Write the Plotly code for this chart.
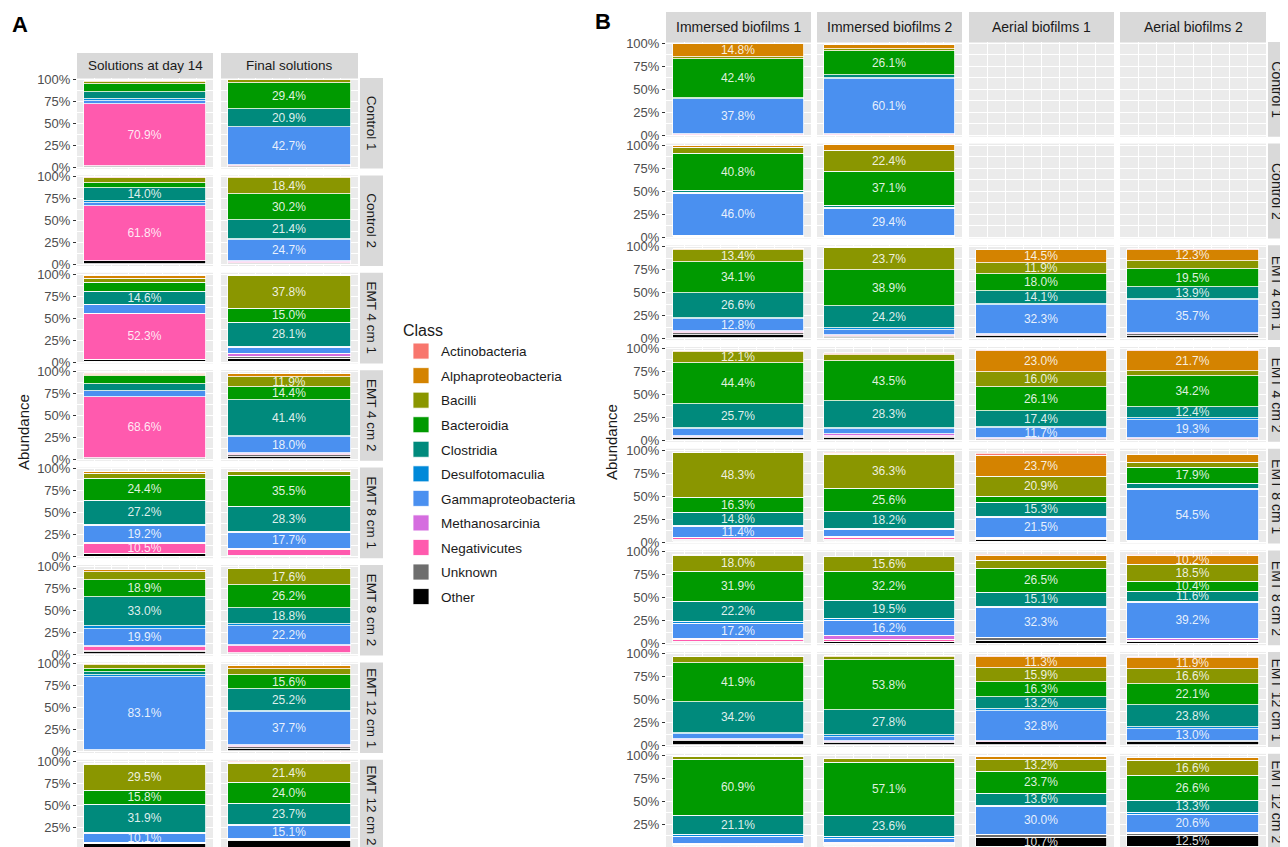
import plotly.graph_objects as go

# ---------------- data ----------------
classes = ["Actinobacteria", "Alphaproteobacteria", "Bacilli", "Bacteroidia", "Clostridia",
           "Desulfotomaculia", "Gammaproteobacteria", "Methanosarcinia", "Negativicutes",
           "Unknown", "Other"]
class_colors = ["#F8766D", "#D48300", "#8A9600", "#009A00", "#008A7C",
                "#0089D9", "#4A90F0", "#D56DDF", "#FF5AAE", "#6E6E6E", "#000000"]

row_labels = ["Control 1", "Control 2", "EMT 4 cm 1", "EMT 4 cm 2",
              "EMT 8 cm 1", "EMT 8 cm 2", "EMT 12 cm 1", "EMT 12 cm 2"]
a_columns = ["Solutions at day 14", "Final solutions"]
b_columns = ["Immersed biofilms 1", "Immersed biofilms 2", "Aerial biofilms 1", "Aerial biofilms 2"]

# each row: values (%) from bottom to top of the stack:
# Other, Unknown, Negativicutes, Methanosarcinia, Gammaproteobacteria, Desulfotomaculia,
# Clostridia, Bacteroidia, Bacilli, Alphaproteobacteria, Actinobacteria
solutions_day14 = [
    [1.0, 0.3, 70.9, 0.2, 3.5, 1.2, 8.3, 9.5, 2.5, 0.8, 0.3],
    [4.0, 0.3, 61.8, 0.2, 3.5, 2.5, 14.0, 6.5, 5.0, 0.8, 0.2],
    [2.5, 0.3, 52.3, 0.2, 9.5, 0.7, 14.6, 9.5, 5.5, 2.5, 0.3],
    [1.5, 0.5, 68.6, 0.2, 6.5, 0.8, 8.0, 9.0, 0.8, 1.5, 0.3],
    [3.5, 0.8, 10.5, 1.5, 19.2, 1.5, 27.2, 24.4, 6.0, 2.0, 0.3],
    [3.0, 0.5, 5.0, 0.8, 19.9, 3.5, 33.0, 18.9, 9.0, 1.8, 0.3],
    [0.5, 0.5, 0.5, 0.3, 83.1, 1.5, 3.5, 4.0, 4.0, 0.8, 0.3],
    [6.0, 0.5, 0.3, 0.2, 10.1, 1.0, 31.9, 15.8, 29.5, 1.2, 0.3],
]
final_solutions = [
    [1.0, 0.5, 0.8, 0.3, 42.7, 0.5, 20.9, 29.4, 3.0, 0.4, 0.2],
    [0.5, 0.5, 1.5, 0.8, 24.7, 0.5, 21.4, 30.2, 18.4, 0.3, 0.1],
    [4.0, 2.0, 0.5, 2.5, 7.0, 1.0, 28.1, 15.0, 37.8, 0.3, 0.1],
    [2.5, 2.0, 1.0, 1.5, 18.0, 1.0, 41.4, 14.4, 11.9, 3.0, 0.3],
    [0.5, 1.0, 6.5, 1.5, 17.7, 1.5, 28.3, 35.5, 4.5, 0.5, 0.1],
    [0.5, 1.0, 8.0, 0.8, 22.2, 1.5, 18.8, 26.2, 17.6, 0.5, 0.1],
    [3.0, 1.5, 1.0, 1.5, 37.7, 1.0, 25.2, 15.6, 7.5, 2.5, 0.3],
    [9.5, 1.0, 0.5, 0.3, 15.1, 1.0, 23.7, 24.0, 21.4, 2.0, 0.3],
]
immersed_1 = [
    [0.5, 0.3, 0.3, 0.5, 37.8, 0.5, 1.0, 42.4, 1.5, 14.8, 0.2],
    [0.5, 0.3, 0.3, 0.3, 46.0, 1.0, 1.5, 40.8, 7.0, 1.5, 0.2],
    [4.0, 2.0, 1.0, 1.5, 12.8, 1.0, 26.6, 34.1, 13.4, 0.5, 0.2],
    [3.0, 0.5, 0.5, 0.5, 7.5, 2.0, 25.7, 44.4, 12.1, 0.5, 0.2],
    [1.5, 1.0, 2.0, 0.5, 11.4, 1.0, 14.8, 16.3, 48.3, 0.3, 0.1],
    [2.0, 0.5, 2.0, 1.0, 17.2, 1.5, 22.2, 31.9, 18.0, 0.5, 0.2],
    [4.5, 1.0, 0.5, 0.5, 5.5, 1.5, 34.2, 41.9, 6.0, 0.5, 0.2],
    [2.0, 0.5, 0.5, 1.0, 7.5, 1.5, 21.1, 60.9, 3.0, 0.3, 0.1],
]
immersed_2 = [
    [0.5, 0.3, 0.3, 0.5, 60.1, 1.0, 2.5, 26.1, 3.0, 3.5, 0.2],
    [0.5, 0.3, 0.3, 0.4, 29.4, 1.0, 2.0, 37.1, 22.4, 6.5, 0.1],
    [2.0, 1.0, 0.5, 0.5, 5.5, 1.5, 24.2, 38.9, 23.7, 0.3, 0.1],
    [3.0, 0.5, 1.5, 2.0, 5.5, 1.5, 28.3, 43.5, 6.5, 2.0, 0.3],
    [2.0, 0.5, 2.5, 0.5, 7.5, 1.5, 18.2, 25.6, 36.3, 2.0, 0.2],
    [2.5, 0.5, 2.0, 4.5, 16.2, 1.5, 19.5, 32.2, 15.6, 0.5, 0.2],
    [2.5, 1.0, 0.5, 0.5, 5.0, 1.5, 27.8, 53.8, 4.0, 0.5, 0.2],
    [2.0, 0.5, 1.0, 1.5, 4.5, 1.5, 23.6, 57.1, 4.5, 0.3, 0.1],
]
aerial_1 = [
    None,
    None,
    [3.0, 0.5, 0.5, 0.3, 32.3, 1.0, 14.1, 18.0, 11.9, 14.5, 0.3],
    [1.0, 0.5, 0.3, 0.3, 11.7, 1.0, 17.4, 26.1, 16.0, 23.0, 1.2],
    [2.5, 1.0, 0.5, 0.5, 21.5, 1.5, 15.3, 7.0, 20.9, 23.7, 1.2],
    [3.5, 3.0, 0.3, 0.3, 32.3, 1.0, 15.1, 26.5, 8.5, 6.0, 0.3],
    [3.5, 0.5, 0.5, 0.3, 32.8, 1.5, 13.2, 16.3, 15.9, 11.3, 1.5],
    [10.7, 2.5, 0.3, 0.3, 30.0, 1.0, 13.6, 23.7, 13.2, 2.5, 0.3],
]
aerial_2 = [
    None,
    None,
    [3.0, 2.0, 0.3, 0.3, 35.7, 1.0, 13.9, 19.5, 8.5, 12.3, 0.3],
    [1.5, 0.5, 0.3, 0.3, 19.3, 2.0, 12.4, 34.2, 4.5, 21.7, 1.2],
    [0.5, 0.5, 0.5, 0.5, 54.5, 1.0, 5.5, 17.9, 5.5, 8.5, 0.3],
    [3.0, 0.5, 0.5, 1.5, 39.2, 1.0, 11.6, 10.4, 18.5, 10.2, 0.3],
    [4.0, 0.5, 0.5, 0.3, 13.0, 2.0, 23.8, 22.1, 16.6, 11.9, 1.5],
    [12.5, 2.0, 0.3, 0.3, 20.6, 1.5, 13.3, 26.6, 16.6, 3.5, 0.3],
]

y_tickvals = [0, 25, 50, 75, 100]
y_ticktext = ["0%", "25%", "50%", "75%", "100%"]
y_minor = [12.5, 37.5, 62.5, 87.5]

# ---------------- layout geometry (pixels of the 1288x847 page) ----------------
PAGE_W, PAGE_H = 1288, 847
OFF = 8                      # default body margin of the html page
W, H = PAGE_W - OFF, PAGE_H - OFF
FONT = "Liberation Sans, Arial, sans-serif"
STRIP = "#D9D9D9"
stack_classes = classes[::-1]
stack_colors = class_colors[::-1]
EXP = 1.5  # % expansion above/below


def fx(x):
    return (x - OFF) / W


def fy(y):
    return 1 - (y - OFF) / H


panels = {
    "A": dict(cols=[(77, 213), (221, 358)], y100=79.3, pitch=97.4, scale=0.88,
              data=[solutions_day14, final_solutions], names=a_columns,
              strip_top=53, row_strip=(360, 383), row_text_x=371.5, sfont=13.5),
    "B": dict(cols=[(666, 811), (817, 962), (969, 1114), (1120, 1266)], y100=43.3, pitch=101.7,
              scale=0.92, data=[immersed_1, immersed_2, aerial_1, aerial_2], names=b_columns,
              strip_top=12, row_strip=(1268, 1290), row_text_x=1277, sfont=14),
}

fig = go.Figure()
layout = {}
shapes = []
annotations = []
idx = 0

for key, p in panels.items():
    for r, rlab in enumerate(row_labels):
        y100 = p["y100"] + p["pitch"] * r
        y0 = y100 + 100 * p["scale"]
        top = y100 - EXP * p["scale"]
        bot_full = y0 + EXP * p["scale"]
        bot = bot_full
        lo = -EXP
        if bot > PAGE_H:
            lo = -EXP + (bot - PAGE_H) / p["scale"]
            bot = PAGE_H
        hi = 100 + EXP
        for c, (x0, x1) in enumerate(p["cols"]):
            idx += 1
            xa = "xaxis" if idx == 1 else f"xaxis{idx}"
            ya = "yaxis" if idx == 1 else f"yaxis{idx}"
            xr = "x" if idx == 1 else f"x{idx}"
            yr = "y" if idx == 1 else f"y{idx}"
            layout[xa] = dict(domain=[fx(x0), fx(x1)], anchor=yr, range=[-0.5, 0.5],
                              showticklabels=False, ticks="", zeroline=False,
                              showgrid=True, gridcolor="white", gridwidth=1.1,
                              tick0=0, dtick=0.25,
                              minor=dict(dtick=0.125, showgrid=True, gridcolor="white",
                                         gridwidth=0.5),
                              fixedrange=True)
            first = c == 0
            layout[ya] = dict(domain=[fy(bot), fy(top)], anchor=xr, range=[lo, hi],
                              tickvals=y_tickvals, ticktext=y_ticktext,
                              showticklabels=first, ticks="outside" if first else "",
                              ticklen=3, tickcolor="#333333", tickwidth=1,
                              tickfont=dict(family=FONT, size=13, color="#4D4D4D"),
                              zeroline=False, showgrid=True, gridcolor="white", gridwidth=1.1,
                              minor=dict(tickvals=y_minor, showgrid=True, gridcolor="white",
                                         gridwidth=0.5),
                              fixedrange=True)
            vals = p["data"][c][r]
            if vals is not None:
                labels = [f"{v:.1f}%" if v >= 10 else "" for v in vals]
                fig.add_trace(go.Bar(
                    x=[0] * len(vals), y=vals, width=0.9,
                    marker=dict(color=stack_colors, line=dict(color="white", width=0.8)),
                    text=labels, textposition="inside", insidetextanchor="middle",
                    textangle=0,
                    textfont=dict(family=FONT, size=12, color="rgba(255,255,255,0.88)"),
                    hovertext=stack_classes, hoverinfo="text+y",
                    xaxis=xr, yaxis=yr, showlegend=False))
            else:
                # empty facet: keep the panel drawn
                fig.add_trace(go.Scatter(x=[None], y=[None], mode="markers",
                                         xaxis=xr, yaxis=yr, showlegend=False,
                                         hoverinfo="skip"))
            # column strips (first row only)
            if r == 0:
                shapes.append(dict(type="rect", xref="paper", yref="paper",
                                   x0=fx(x0), x1=fx(x1), y0=fy(top), y1=fy(p["strip_top"]),
                                   fillcolor=STRIP, line=dict(width=0), layer="below"))
                annotations.append(dict(text=p["names"][c], xref="paper", yref="paper",
                                        x=fx((x0 + x1) / 2), y=fy((p["strip_top"] + top) / 2),
                                        showarrow=False, xanchor="center", yanchor="middle",
                                        font=dict(family=FONT, size=p["sfont"], color="#1A1A1A")))
        # row strip
        rx0, rx1 = p["row_strip"]
        shapes.append(dict(type="rect", xref="paper", yref="paper",
                           x0=fx(rx0), x1=min(1.0, fx(rx1)), y0=fy(bot), y1=fy(top),
                           fillcolor=STRIP, line=dict(width=0), layer="below"))
        annotations.append(dict(text=rlab, xref="paper", yref="paper",
                                x=fx(p["row_text_x"]), y=fy((top + bot_full) / 2),
                                showarrow=False, textangle=90, xanchor="center", yanchor="middle",
                                font=dict(family=FONT, size=p["sfont"], color="#1A1A1A")))

# legend entries (square swatches)
for cls, col in zip(classes, class_colors):
    fig.add_trace(go.Scatter(x=[None], y=[None], name=cls, legendgroup=cls, mode="markers",
                             marker=dict(symbol="square", size=20, color=col,
                                         line=dict(color="white", width=0.8)),
                             xaxis="x", yaxis="y", showlegend=True))

# panel letters and axis titles
annotations += [
    dict(text="<b>A</b>", xref="paper", yref="paper", x=fx(20), y=fy(25), showarrow=False,
         xanchor="center", yanchor="middle", font=dict(family=FONT, size=22, color="black")),
    dict(text="<b>B</b>", xref="paper", yref="paper", x=fx(603), y=fy(22), showarrow=False,
         xanchor="center", yanchor="middle", font=dict(family=FONT, size=22, color="black")),
    dict(text="Abundance", xref="paper", yref="paper", x=fx(23), y=fy(432), showarrow=False,
         xanchor="center", yanchor="middle",
         textangle=-90, font=dict(family=FONT, size=15, color="#1A1A1A")),
    dict(text="Abundance", xref="paper", yref="paper", x=fx(611), y=fy(442), showarrow=False,
         xanchor="center", yanchor="middle",
         textangle=-90, font=dict(family=FONT, size=15, color="#1A1A1A")),
]

fig.update_layout(**layout)
fig.update_layout(
    width=W, height=H, autosize=False,
    margin=dict(l=0, r=0, t=0, b=0, pad=0, autoexpand=False),
    paper_bgcolor="white", plot_bgcolor="#EBEBEB",
    barmode="stack", bargap=0,
    uniformtext=dict(minsize=12, mode="show"),
    shapes=shapes, annotations=annotations,
    showlegend=True,
    legend=dict(x=fx(401), y=fy(315), xanchor="left", yanchor="top",
                title=dict(text="Class", font=dict(family=FONT, size=16, color="#1A1A1A")),
                font=dict(family=FONT, size=13.5, color="#1A1A1A"),
                itemsizing="trace",
                traceorder="grouped", tracegroupgap=4, bgcolor="rgba(0,0,0,0)"),
    font=dict(family=FONT),
)

fig.write_html("out.html", config={"displayModeBar": False})
